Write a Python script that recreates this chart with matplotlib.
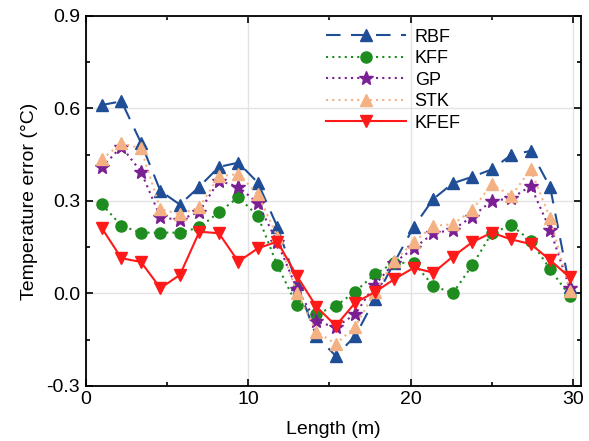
import numpy as np
import matplotlib
matplotlib.use('Agg')
import matplotlib.pyplot as plt
from matplotlib.ticker import MultipleLocator

plt.rcParams['font.family'] = ['Liberation Sans', 'DejaVu Sans']
plt.rcParams['font.size'] = 14

# sensor positions along the length (m)
length = [1.0, 2.2, 3.4, 4.6, 5.8, 7.0, 8.2, 9.4, 10.6, 11.8, 13.0, 14.2, 15.4,
          16.6, 17.8, 19.0, 20.2, 21.4, 22.6, 23.8, 25.0, 26.2, 27.4, 28.6, 29.8]

rbf = [0.611, 0.623, 0.489, 0.332, 0.288, 0.346, 0.410, 0.424, 0.359, 0.216, 0.031, -0.138, -0.203,
       -0.138, -0.019, 0.100, 0.216, 0.306, 0.357, 0.378, 0.402, 0.449, 0.462, 0.344, 0.020]
kff = [0.289, 0.219, 0.197, 0.197, 0.197, 0.214, 0.263, 0.312, 0.251, 0.091, -0.038, -0.067, -0.041,
       0.006, 0.062, 0.100, 0.098, 0.025, 0.000, 0.091, 0.195, 0.221, 0.171, 0.078, -0.008]
gp = [0.409, 0.476, 0.395, 0.247, 0.238, 0.265, 0.365, 0.346, 0.292, 0.166, 0.015, -0.091, -0.110,
      -0.067, 0.027, 0.100, 0.146, 0.195, 0.206, 0.249, 0.300, 0.308, 0.348, 0.206, 0.017]
stk = [0.435, 0.487, 0.470, 0.273, 0.257, 0.279, 0.380, 0.387, 0.321, 0.184, 0.002, -0.124, -0.164,
       -0.108, 0.004, 0.106, 0.166, 0.219, 0.224, 0.270, 0.355, 0.316, 0.402, 0.243, 0.009]
kfef = [0.211, 0.114, 0.102, 0.017, 0.060, 0.200, 0.195, 0.103, 0.146, 0.168, 0.057, -0.043, -0.105,
        -0.030, 0.004, 0.046, 0.083, 0.067, 0.119, 0.166, 0.197, 0.175, 0.160, 0.108, 0.052]

fig, ax = plt.subplots(figsize=(5.89, 4.41), dpi=100)
fig.subplots_adjust(left=0.1455, right=0.9865, top=0.964, bottom=0.125)

ax.plot(length, rbf, color='#1f4e96', linestyle=(0, (7, 5)), lw=1.5,
        marker='^', markersize=8.5, label='RBF', zorder=3)
ax.plot(length, kff, color='#1e8c1e', linestyle=(0, (1, 2)), lw=1.5,
        marker='o', markersize=8, label='KFF', zorder=3)
ax.plot(length, gp, color='#7b1f94', linestyle=(0, (1, 2)), lw=1.5,
        marker='*', markersize=10.5, label='GP', zorder=3)
ax.plot(length, stk, color='#f4b183', linestyle=(0, (1, 2)), lw=1.5,
        marker='^', markersize=8.5, label='STK', zorder=3)
ax.plot(length, kfef, color='#ff1a1a', linestyle='-', lw=1.5,
        marker='v', markersize=8.5, label='KFEF', zorder=4)

ax.set_xlim(0, 30.5)
ax.set_ylim(-0.3, 0.9)
ax.xaxis.set_major_locator(MultipleLocator(10))
ax.xaxis.set_minor_locator(MultipleLocator(5))
ax.yaxis.set_major_locator(MultipleLocator(0.3))
ax.yaxis.set_minor_locator(MultipleLocator(0.15))
ax.yaxis.set_major_formatter(matplotlib.ticker.FormatStrFormatter('%.1f'))
ax.tick_params(which='both', direction='in', top=True, right=True, width=1.2)
ax.tick_params(which='major', length=5, labelsize=14, pad=4)
ax.tick_params(which='minor', length=3)
ax.grid(True, which='major', color='#e3e3e3', lw=1.0, zorder=0)
ax.set_axisbelow(True)
for s in ax.spines.values():
    s.set_linewidth(1.3)

ax.set_xlabel('Length (m)', fontsize=14, labelpad=9)
ax.set_ylabel('Temperature error (°C)', fontsize=14, labelpad=6)

ax.legend(loc='upper left', bbox_to_anchor=(0.46, 1.0), frameon=False,
          handlelength=4.4, numpoints=1, labelspacing=0.25, fontsize=13,
          borderaxespad=0.3, handletextpad=0.5)

fig.savefig('out.png', dpi=100)
